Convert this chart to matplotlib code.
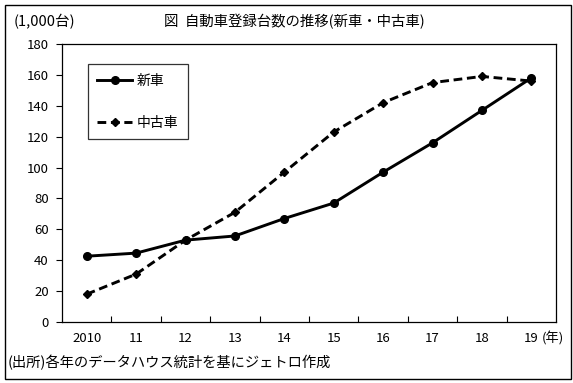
import matplotlib
matplotlib.use("Agg")
import matplotlib.pyplot as plt
from matplotlib.patches import Rectangle

plt.rcParams["font.family"] = ["Noto Sans CJK JP", "DejaVu Sans"]

# data (1,000 units)
years = ["2010", "11", "12", "13", "14", "15", "16", "17", "18", "19"]
new_cars = [42.6, 44.6, 53.0, 55.7, 67.0, 77.0, 97.0, 116.0, 137.0, 158.0]
used_cars = [18.0, 31.0, 53.0, 71.0, 97.0, 123.0, 142.0, 155.0, 159.0, 156.0]
yticks = [0, 20, 40, 60, 80, 100, 120, 140, 160, 180]

W, H = 573, 383
fig = plt.figure(figsize=(W / 100, H / 100), dpi=100)
ax = fig.add_axes([62 / W, 1 - 322 / H, (556 - 62) / W, (322 - 44) / H])

x = list(range(len(years)))
ax.plot(x, new_cars, color="black", lw=2.1, marker="o", ms=5.5, label="新車")
ax.plot(x, used_cars, color="black", lw=2.1, ls=(0, (3, 1.6)), marker="D", ms=4.5,
        label="中古車")

ax.set_xlim(-0.5, len(years) - 0.5)
ax.set_ylim(0, 180)
ax.set_yticks(yticks)
ax.set_yticklabels([str(v) for v in yticks], fontsize=9.5)
ax.tick_params(axis="y", direction="out", length=4, width=0.8, pad=5.5)

# category labels at centres, tick marks at boundaries pointing inward
ax.set_xticks([i + 0.5 for i in range(len(years) - 1)])
ax.set_xticklabels([])
ax.tick_params(axis="x", direction="in", length=4, width=0.8)
for i, lab in enumerate(years):
    ax.text(i, -10.7, lab, ha="center", va="center", fontsize=9.5)
ax.text(len(years) - 1 + 0.22, -10.7, "(年)", ha="left", va="center", fontsize=9.5,
        clip_on=False)

for s in ax.spines.values():
    s.set_linewidth(0.9)

leg = ax.legend(loc="upper left", bbox_to_anchor=(0.038, 0.953), fontsize=10,
                frameon=True, fancybox=False, edgecolor="black", handlelength=2.5,
                labelspacing=2.0, borderpad=0.7, handletextpad=0.3)
leg.get_frame().set_linewidth(0.9)

fig.text(14 / W, 1 - 22 / H, "(1,000台)", fontsize=10.5, ha="left", va="center")
fig.text(294 / W, 1 - 22 / H, "図  自動車登録台数の推移(新車・中古車)", fontsize=10.4,
         ha="center", va="center")
fig.text(8 / W, 1 - 362 / H, "(出所)各年のデータハウス統計を基にジェトロ作成",
         fontsize=10.3, ha="left", va="center")

fig.patches.append(Rectangle((4.5 / W, 1 - 378.5 / H), (570.5 - 4.5) / W, (378.5 - 4.5) / H,
                             transform=fig.transFigure, fill=False, lw=1.0,
                             edgecolor="black"))

fig.savefig("out.png", dpi=100, facecolor="white")
